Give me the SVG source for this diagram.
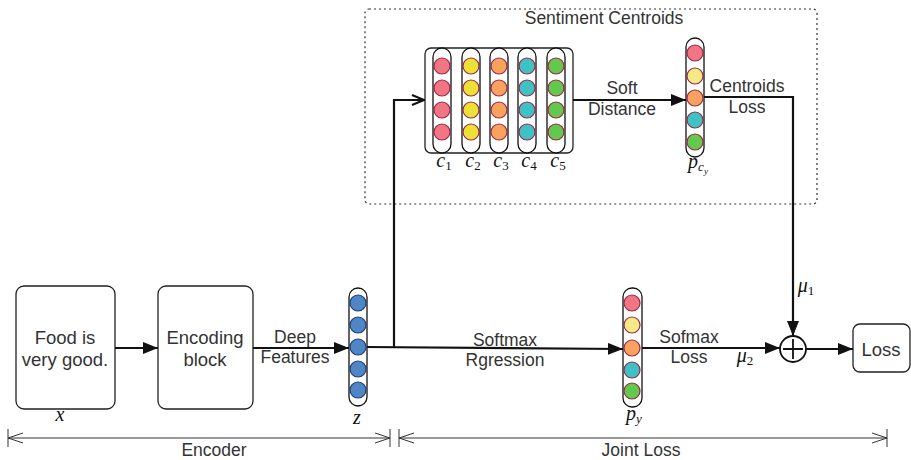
<svg xmlns="http://www.w3.org/2000/svg" width="911" height="460" viewBox="0 0 911 460">
<style>
.lbl{font-family:"Liberation Sans",Arial,sans-serif;font-size:17.5px;fill:#333;text-anchor:middle}
.big{font-size:18.5px}
.math{font-family:"Liberation Serif","Times New Roman",serif;font-style:italic;font-size:20px;fill:#111;text-anchor:middle}
.sub{font-size:13px;font-style:normal}
.subi{font-size:13px}
.box{fill:#fff;stroke:#222;stroke-width:1.3}
.pill{fill:#fff;stroke:#111;stroke-width:1.3}
.dot{stroke:#9a2a45;stroke-width:1.2}
.blue{fill:#4f86c6;stroke:#1f3e6e;stroke-width:1.2}
.pk{fill:#f27583}.ye{fill:#ede037}.ly{fill:#f3ea85}.or{fill:#f9a15e}.te{fill:#3ec2c6}.gr{fill:#63c84e}
.conn{fill:none;stroke:#111;stroke-width:2.2}
.dim{fill:none;stroke:#333;stroke-width:1}
</style>
<defs>
<marker id="tri" markerUnits="userSpaceOnUse" viewBox="0 0 15 12" refX="15" refY="6" markerWidth="15" markerHeight="12" orient="auto">
<path d="M0,0 L15,6 L0,12 z" fill="#111"/>
</marker>
<marker id="open" markerUnits="userSpaceOnUse" viewBox="0 0 14 12" refX="13" refY="6" markerWidth="14" markerHeight="12" orient="auto">
<path d="M1,1 L13,6 L1,11" fill="none" stroke="#111" stroke-width="2"/>
</marker>
<marker id="dimEnd" markerUnits="userSpaceOnUse" viewBox="0 0 16 12" refX="15" refY="6" markerWidth="16" markerHeight="12" orient="auto">
<path d="M0,1 L15,6 L0,11" fill="none" stroke="#333" stroke-width="1"/>
</marker>
<marker id="dimStart" markerUnits="userSpaceOnUse" viewBox="0 0 16 12" refX="1" refY="6" markerWidth="16" markerHeight="12" orient="auto">
<path d="M16,1 L1,6 L16,11" fill="none" stroke="#333" stroke-width="1"/>
</marker>
</defs>
<rect width="911" height="460" fill="#fff"/>

<g id="sentiment-centroids-group">
<rect x="365" y="9" width="452" height="195" rx="4" fill="none" stroke="#333" stroke-width="1.2" stroke-dasharray="2,3"/>
<text class="lbl" x="604" y="24">Sentiment Centroids</text>
</g>

<g id="centroids">
<rect class="box" x="425" y="48" width="148" height="105" rx="6"/>
<rect class="pill" x="433" y="48" width="18" height="105" rx="9"/>
<rect class="pill" x="462" y="48" width="18" height="105" rx="9"/>
<rect class="pill" x="490" y="48" width="18" height="105" rx="9"/>
<rect class="pill" x="518" y="48" width="18" height="105" rx="9"/>
<rect class="pill" x="547" y="48" width="18" height="105" rx="9"/>
<g class="dot">
<circle class="pk" cx="442" cy="66" r="8"/><circle class="pk" cx="442" cy="88" r="8"/><circle class="pk" cx="442" cy="110" r="8"/><circle class="pk" cx="442" cy="132" r="8"/>
<circle class="ye" cx="471" cy="66" r="8"/><circle class="ye" cx="471" cy="88" r="8"/><circle class="ye" cx="471" cy="110" r="8"/><circle class="ye" cx="471" cy="132" r="8"/>
<circle class="or" cx="499" cy="66" r="8"/><circle class="or" cx="499" cy="88" r="8"/><circle class="or" cx="499" cy="110" r="8"/><circle class="or" cx="499" cy="132" r="8"/>
<circle class="te" cx="527" cy="66" r="8"/><circle class="te" cx="527" cy="88" r="8"/><circle class="te" cx="527" cy="110" r="8"/><circle class="te" cx="527" cy="132" r="8"/>
<circle class="gr" cx="556" cy="66" r="8"/><circle class="gr" cx="556" cy="88" r="8"/><circle class="gr" cx="556" cy="110" r="8"/><circle class="gr" cx="556" cy="132" r="8"/>
</g>
<text class="math" x="444" y="167">c<tspan class="sub" dy="3">1</tspan></text>
<text class="math" x="473" y="167">c<tspan class="sub" dy="3">2</tspan></text>
<text class="math" x="501" y="167">c<tspan class="sub" dy="3">3</tspan></text>
<text class="math" x="529" y="167">c<tspan class="sub" dy="3">4</tspan></text>
<text class="math" x="558" y="167">c<tspan class="sub" dy="3">5</tspan></text>
</g>

<g id="p-cy">
<rect class="pill" x="686" y="38" width="18" height="119" rx="9"/>
<g class="dot">
<circle class="pk" cx="695" cy="53" r="8"/>
<circle class="ly" cx="695" cy="76" r="8"/>
<circle class="or" cx="695" cy="98" r="8"/>
<circle class="te" cx="695" cy="120" r="8"/>
<circle class="gr" cx="695" cy="142" r="8"/>
</g>
<text class="math" x="698" y="168">p<tspan class="subi" dy="3">c</tspan><tspan class="subi" dy="3" style="font-size:9px">y</tspan></text>
</g>

<g id="input">
<rect class="box" x="16" y="286" width="99" height="123" rx="8"/>
<text class="lbl big" x="65" y="344">Food is</text>
<text class="lbl big" x="65" y="366">very good.</text>
<text class="math" x="60" y="421">x</text>
</g>

<g id="encoding-block">
<rect class="box" x="158" y="286" width="95" height="123" rx="8"/>
<text class="lbl big" x="205" y="344">Encoding</text>
<text class="lbl big" x="205" y="366">block</text>
</g>

<g id="z">
<rect class="pill" x="349" y="288" width="18" height="118" rx="9"/>
<circle class="blue" cx="358" cy="303" r="8"/>
<circle class="blue" cx="358" cy="325" r="8"/>
<circle class="blue" cx="358" cy="347" r="8"/>
<circle class="blue" cx="358" cy="369" r="8"/>
<circle class="blue" cx="358" cy="390" r="8"/>
<text class="math" x="357" y="424">z</text>
</g>

<g id="p-y">
<rect class="pill" x="623" y="288" width="19" height="119" rx="9"/>
<g class="dot">
<circle class="pk" cx="632" cy="303" r="8"/>
<circle class="ly" cx="632" cy="325" r="8"/>
<circle class="or" cx="632" cy="348" r="8"/>
<circle class="te" cx="632" cy="370" r="8"/>
<circle class="gr" cx="632" cy="391" r="8"/>
</g>
<text class="math" x="634" y="420">p<tspan class="subi" dy="3">y</tspan></text>
</g>

<g id="plus">
<circle cx="793" cy="349" r="13" fill="#fff" stroke="#111" stroke-width="1.8"/>
<path d="M793,339 V359 M783,349 H803" stroke="#111" stroke-width="1.8"/>
</g>

<g id="loss">
<rect class="box" x="853" y="324" width="57" height="48" rx="7"/>
<text class="lbl big" x="881" y="356">Loss</text>
</g>

<g id="connectors">
<line class="conn" x1="115" y1="348" x2="158" y2="348" marker-end="url(#tri)"/>
<line class="conn" x1="253" y1="348" x2="349" y2="348" marker-end="url(#tri)"/>
<line class="conn" x1="367" y1="347" x2="623" y2="349" marker-end="url(#tri)"/>
<path class="conn" d="M394,347 V100 H424" marker-end="url(#open)"/>
<line class="conn" x1="573" y1="100" x2="686" y2="100" marker-end="url(#tri)"/>
<path class="conn" d="M704,97 H793 V336" marker-end="url(#tri)"/>
<line class="conn" x1="642" y1="348" x2="780" y2="348" marker-end="url(#tri)"/>
<line class="conn" x1="806" y1="349" x2="853" y2="349" marker-end="url(#tri)"/>
<text class="lbl" x="295" y="343">Deep</text>
<text class="lbl" x="295" y="363">Features</text>
<text class="lbl" x="505" y="346">Softmax</text>
<text class="lbl" x="505" y="366">Rgression</text>
<text class="lbl" x="622" y="94">Soft</text>
<text class="lbl" x="622" y="115">Distance</text>
<text class="lbl" x="747" y="92">Centroids</text>
<text class="lbl" x="747" y="113">Loss</text>
<text class="lbl" x="689" y="343">Sofmax</text>
<text class="lbl" x="689" y="363">Loss</text>
<text class="math" x="806" y="292">μ<tspan class="sub" dy="3">1</tspan></text>
<text class="math" x="745" y="362">μ<tspan class="sub" dy="3">2</tspan></text>
</g>

<g id="dimensions">
<path class="dim" d="M8,429 V447 M390,429 V447 M399,429 V447 M887,429 V447"/>
<line class="dim" x1="8" y1="438" x2="390" y2="438" marker-start="url(#dimStart)" marker-end="url(#dimEnd)"/>
<line class="dim" x1="399" y1="438" x2="887" y2="438" marker-start="url(#dimStart)" marker-end="url(#dimEnd)"/>
<text class="lbl" x="214" y="456">Encoder</text>
<text class="lbl" x="641" y="456">Joint Loss</text>
</g>
</svg>
